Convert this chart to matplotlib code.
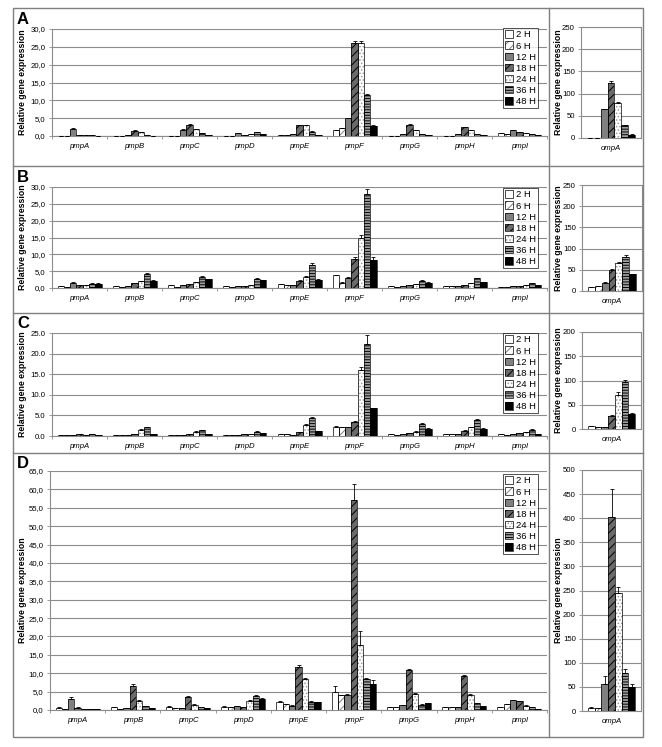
import numpy as np
import matplotlib
matplotlib.use('Agg')
import matplotlib.pyplot as plt
from matplotlib.patches import Patch, Rectangle
from matplotlib.lines import Line2D
from matplotlib.ticker import FuncFormatter, MultipleLocator

plt.rcParams['font.family'] = ['Liberation Sans', 'DejaVu Sans']
plt.rcParams['hatch.linewidth'] = 0.7

series = ['2 H', '6 H', '12 H', '18 H', '24 H', '36 H', '48 H']
genes = ['pmpA', 'pmpB', 'pmpC', 'pmpD', 'pmpE', 'pmpF', 'pmpG', 'pmpH', 'pmpI']

# values: one row per gene, columns = time points (2,6,12,18,24,36,48 H)
A_pmp = [
    [0.1, 0.1, 2.1, 0.3, 0.2, 0.2, 0.1],
    [0.05, 0.05, 0.3, 1.5, 1.0, 0.4, 0.1],
    [0.05, 0.05, 1.8, 3.2, 2.0, 0.8, 0.3],
    [0.1, 0.1, 0.8, 0.3, 0.6, 1.0, 0.6],
    [0.3, 0.3, 0.7, 3.1, 3.0, 1.2, 0.4],
    [1.6, 2.2, 5.0, 26.0, 26.0, 11.5, 2.8],
    [0.1, 0.1, 0.5, 3.2, 1.6, 0.7, 0.3],
    [0.1, 0.1, 0.5, 2.5, 1.6, 0.5, 0.2],
    [0.9, 0.5, 1.7, 1.2, 0.8, 0.5, 0.2],
]
A_pmp_err = [
    [0, 0, 0.1, 0, 0, 0, 0],
    [0, 0, 0, 0.1, 0, 0, 0],
    [0, 0, 0.1, 0.1, 0.1, 0, 0],
    [0, 0, 0, 0, 0, 0.1, 0],
    [0, 0, 0, 0.1, 0.1, 0.1, 0],
    [0.1, 0.1, 0.1, 0.6, 0.7, 0.3, 0.2],
    [0, 0, 0, 0.1, 0.1, 0, 0],
    [0, 0, 0, 0.1, 0.1, 0, 0],
    [0, 0, 0.1, 0, 0, 0, 0],
]
A_omp = [1, 1, 65, 123, 78, 29, 7]
A_omp_err = [0, 0, 1, 5, 3, 1, 1]

B_pmp = [
    [0.5, 0.3, 1.6, 1.0, 1.0, 1.3, 1.3],
    [0.6, 0.2, 0.7, 1.5, 2.0, 4.3, 2.2],
    [0.9, 0.3, 0.8, 1.2, 1.8, 3.3, 2.7],
    [0.5, 0.3, 0.7, 0.7, 0.8, 2.7, 2.4],
    [1.1, 0.8, 1.0, 2.2, 3.3, 6.8, 2.5],
    [3.8, 1.6, 3.0, 8.5, 14.8, 27.8, 8.3],
    [0.5, 0.3, 0.5, 0.8, 1.2, 2.2, 1.6],
    [0.7, 0.5, 0.7, 0.9, 1.4, 2.9, 1.8],
    [0.4, 0.4, 0.6, 0.6, 0.9, 1.4, 0.8],
]
B_pmp_err = [
    [0, 0, 0.1, 0, 0, 0.1, 0.1],
    [0, 0, 0, 0.1, 0.1, 0.3, 0.1],
    [0.1, 0, 0, 0.1, 0.1, 0.2, 0.1],
    [0, 0, 0, 0, 0, 0.2, 0.1],
    [0.1, 0, 0, 0.1, 0.2, 0.5, 0.1],
    [0.2, 0.1, 0.2, 0.6, 1.0, 1.5, 0.8],
    [0, 0, 0, 0, 0.1, 0.1, 0.1],
    [0, 0, 0, 0.1, 0.1, 0.2, 0.1],
    [0, 0, 0, 0, 0, 0.1, 0],
]
B_omp = [9, 11, 20, 49, 65, 80, 39]
B_omp_err = [1, 1, 1, 3, 4, 5, 2]

C_pmp = [
    [0.2, 0.2, 0.2, 0.4, 0.3, 0.4, 0.3],
    [0.2, 0.2, 0.2, 0.4, 1.5, 2.2, 0.4],
    [0.2, 0.2, 0.2, 0.5, 1.0, 1.4, 0.4],
    [0.3, 0.2, 0.3, 0.5, 0.5, 1.0, 0.8],
    [0.5, 0.4, 0.3, 0.9, 2.7, 4.3, 1.2],
    [2.3, 2.1, 2.2, 3.5, 16.0, 22.3, 6.8],
    [0.6, 0.3, 0.5, 0.7, 1.0, 2.9, 1.8],
    [0.6, 0.5, 0.5, 1.3, 2.2, 3.9, 1.8],
    [0.5, 0.3, 0.4, 0.8, 1.0, 1.5, 0.5],
]
C_pmp_err = [
    [0, 0, 0, 0, 0, 0, 0],
    [0, 0, 0, 0, 0.1, 0.1, 0],
    [0, 0, 0, 0, 0.1, 0.1, 0],
    [0, 0, 0, 0, 0, 0.1, 0],
    [0, 0, 0, 0.1, 0.1, 0.4, 0.1],
    [0.2, 0.1, 0.1, 0.2, 0.8, 2.2, 0.1],
    [0, 0, 0, 0, 0.1, 0.2, 0.1],
    [0, 0, 0, 0.1, 0.1, 0.2, 0.1],
    [0, 0, 0, 0, 0, 0.1, 0],
]
C_omp = [6, 4, 4, 26, 71, 96, 30]
C_omp_err = [1, 0, 0, 2, 6, 6, 2]

D_pmp = [
    [0.6, 0.3, 3.0, 0.6, 0.2, 0.3, 0.2],
    [0.7, 0.3, 0.5, 6.5, 2.5, 1.0, 0.6],
    [0.9, 0.5, 0.6, 3.4, 1.4, 0.8, 0.5],
    [0.9, 0.7, 1.0, 0.7, 2.4, 3.8, 3.0],
    [2.2, 1.6, 1.2, 11.8, 8.3, 2.3, 2.1],
    [4.9, 4.0, 4.2, 57.1, 17.7, 8.3, 7.1],
    [0.7, 0.8, 1.3, 10.9, 4.3, 1.4, 1.8],
    [0.9, 0.9, 0.9, 9.3, 4.2, 1.8, 1.0],
    [0.7, 1.6, 2.6, 2.4, 1.2, 0.7, 0.4],
]
D_pmp_err = [
    [0.1, 0, 0.4, 0.1, 0, 0, 0],
    [0.1, 0, 0, 0.5, 0.2, 0.1, 0],
    [0.1, 0, 0, 0.3, 0.1, 0.1, 0],
    [0.1, 0, 0.1, 0, 0.2, 0.3, 0.2],
    [0.2, 0.1, 0.1, 0.4, 0.3, 0.1, 0.1],
    [1.6, 0.2, 0.2, 4.5, 3.8, 0.3, 1.0],
    [0, 0, 0.1, 0.3, 0.2, 0.1, 0.1],
    [0, 0, 0, 0.3, 0.2, 0.2, 0.1],
    [0, 0.1, 0.1, 0.1, 0.1, 0, 0],
]
D_omp = [7, 6, 56, 403, 244, 79, 50]
D_omp_err = [1, 1, 17, 58, 14, 9, 7]

W, H = 662, 747
fig = plt.figure(figsize=(W / 100, H / 100), dpi=100)
fig.patch.set_facecolor('white')


def frac(l, t, r, b):
    return [l / W, 1 - b / H, (r - l) / W, (b - t) / H]


# fill, hatch pattern, hatch colour
styles = [
    dict(facecolor='white', hatch=None, hc='black'),
    dict(facecolor='white', hatch='////', hc='#808080'),
    dict(facecolor='#808080', hatch=None, hc='black'),
    dict(facecolor='#6a6a6a', hatch='////', hc='black'),
    dict(facecolor='white', hatch='.....', hc='#9a9a9a'),
    dict(facecolor='#a0a0a0', hatch='------', hc='black'),
    dict(facecolor='black', hatch=None, hc='black'),
]

GRID = '#8c8c8c'
TICKFS = 5.6
LABFS = 6.3


def comma_fmt(v, pos):
    return ('%.1f' % v).replace('.', ',')


def dot_fmt(v, pos):
    return '%.1f' % v


def int_fmt(v, pos):
    return '%d' % v


def draw_bars(ax, data, err, cats, rect, label_x):
    data = np.array(data, dtype=float).T
    err = np.array(err, dtype=float).T
    n = len(series)
    gw = 0.8
    bw = gw / n
    x = np.arange(len(cats))
    for i in range(n):
        st = styles[i]
        xi = x - gw / 2 + bw * (i + 0.5)
        ax.bar(xi, data[i], bw, facecolor=st['facecolor'], hatch=st['hatch'],
               edgecolor=st['hc'], linewidth=0, zorder=3)
        ax.bar(xi, data[i], bw, fill=False, edgecolor='black', linewidth=0.5,
               zorder=3.5)
        ax.errorbar(xi, data[i], yerr=[np.zeros_like(err[i]), err[i]],
                    fmt='none', ecolor='black', elinewidth=0.6,
                    capsize=1.2, capthick=0.6, zorder=4)
    ax.set_xlim(-0.5, len(cats) - 0.5)
    ax.set_xticks(x)
    ax.set_xticklabels(cats, fontsize=TICKFS, style='italic')
    ax.set_xticks(np.arange(len(cats) + 1) - 0.5, minor=True)
    ax.tick_params(axis='x', which='major', length=0, pad=5)
    ax.tick_params(axis='x', which='minor', length=2.5, width=0.6, color=GRID)
    ax.tick_params(axis='y', length=2.5, width=0.6, color=GRID,
                   labelsize=TICKFS, pad=2)
    ax.yaxis.grid(True, color=GRID, linewidth=0.8)
    ax.set_axisbelow(True)
    ax.set_ylabel('Relative gene expression', fontsize=LABFS,
                  fontweight='bold')
    ycen = 1 - (rect[1] + rect[3]) / 2 / H
    ax.yaxis.set_label_coords(label_x / W, ycen, transform=fig.transFigure)


def legend_handles():
    hs = []
    for st in styles:
        p1 = Patch(facecolor=st['facecolor'], hatch=st['hatch'],
                   edgecolor=st['hc'], linewidth=0)
        p2 = Patch(fill=False, edgecolor='black', linewidth=0.5)
        hs.append((p1, p2))
    return hs


def draw_main(rect, data, err, ymax, step, fmt, leg_top):
    ax = fig.add_axes(frac(*rect))
    draw_bars(ax, data, err, genes, rect, 27)
    ax.set_ylim(0, ymax)
    ax.yaxis.set_major_locator(MultipleLocator(step))
    ax.yaxis.set_major_formatter(FuncFormatter(fmt))
    for s in ['top', 'right']:
        ax.spines[s].set_visible(False)
    for s in ['left', 'bottom']:
        ax.spines[s].set_color(GRID)
        ax.spines[s].set_linewidth(0.8)
    leg = ax.legend(legend_handles(), series, loc='upper left',
                    bbox_to_anchor=(503 / W, 1 - leg_top / H),
                    bbox_transform=fig.transFigure, fontsize=6.8,
                    frameon=True, fancybox=False, borderpad=0.25,
                    labelspacing=0.22, handlelength=0.85, handleheight=0.85,
                    handletextpad=0.25, borderaxespad=0)
    leg.get_frame().set_edgecolor('black')
    leg.get_frame().set_linewidth(0.6)
    leg.set_zorder(10)
    return ax


def draw_side(rect, data, err, ymax, step):
    ax = fig.add_axes(frac(*rect))
    draw_bars(ax, [data], [err], ['ompA'], rect, 563)
    ax.set_ylim(0, ymax)
    ax.yaxis.set_major_locator(MultipleLocator(step))
    ax.yaxis.set_major_formatter(FuncFormatter(int_fmt))
    ax.tick_params(axis='x', which='minor', length=0)
    for s in ax.spines.values():
        s.set_color(GRID)
        s.set_linewidth(0.8)
    return ax


draw_main((52, 29, 547, 136), A_pmp, A_pmp_err, 30, 5, comma_fmt, 28)
draw_side((581, 27, 641, 138), A_omp, A_omp_err, 250, 50)
draw_main((52, 187, 547, 288), B_pmp, B_pmp_err, 30, 5, comma_fmt, 188)
draw_side((582, 185, 642, 291), B_omp, B_omp_err, 250, 50)
draw_main((52, 333, 547, 436), C_pmp, C_pmp_err, 25, 5, dot_fmt, 333)
draw_side((582, 332, 641, 429), C_omp, C_omp_err, 200, 50)
draw_main((50, 471, 547, 710), D_pmp, D_pmp_err, 65, 5, comma_fmt, 474)
draw_side((582, 470, 641, 711), D_omp, D_omp_err, 500, 50)

# outer frame and separators
FRAME = '#7f7f7f'
fig.add_artist(Rectangle((13 / W, 1 - 737 / H), 630 / W, 729 / H,
                         transform=fig.transFigure, fill=False,
                         edgecolor=FRAME, linewidth=1.0))
for yy in [166, 313, 453]:
    fig.add_artist(Line2D([13 / W, 643 / W], [1 - yy / H, 1 - yy / H],
                          transform=fig.transFigure, color=FRAME, linewidth=1.0))
fig.add_artist(Line2D([549 / W, 549 / W], [1 - 8 / H, 1 - 737 / H],
                      transform=fig.transFigure, color=FRAME, linewidth=1.0))

for lab, yy in [('A', 19), ('B', 177), ('C', 323), ('D', 463)]:
    fig.text(17 / W, 1 - yy / H, lab, fontsize=12, fontweight='bold',
             va='center', ha='left')

fig.savefig('out.png', dpi=100, facecolor='white')
